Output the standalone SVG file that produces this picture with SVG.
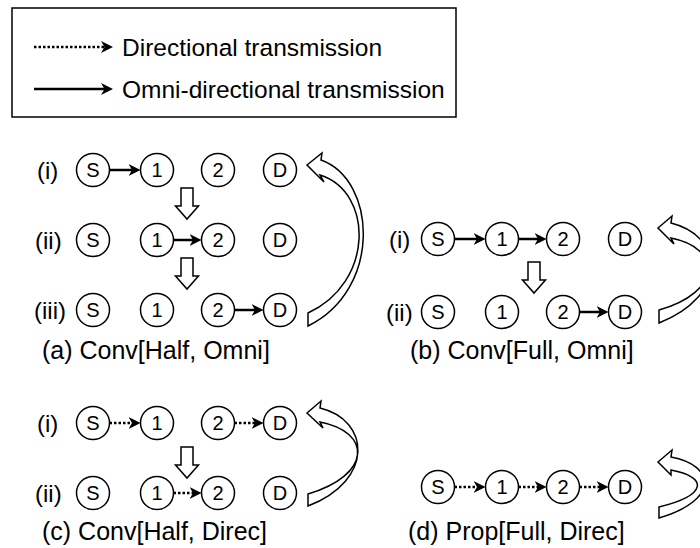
<svg xmlns="http://www.w3.org/2000/svg" width="700" height="548" viewBox="0 0 700 548">
<style>
text{font-family:"Liberation Sans",Arial,sans-serif;fill:#000}
.leg{font-size:24.5px}
.cap{font-size:25px}
.row{font-size:24px}
.nl{font-size:20px;text-anchor:middle}
.node circle{fill:#fff;stroke:#000;stroke-width:1.5}
.solid{stroke:#000;stroke-width:2.5;fill:none;marker-end:url(#ah)}
.dot{stroke:#000;stroke-width:2.5;fill:none;stroke-dasharray:2.5 2;marker-end:url(#ah)}
.blk{fill:#fff;stroke:#000;stroke-width:1.5;stroke-linejoin:miter}
</style>
<defs>
<marker id="ah" markerUnits="userSpaceOnUse" markerWidth="14" markerHeight="14" refX="7" refY="6" orient="auto" viewBox="0 0 14 14">
<path d="M0,0 L12,6 L0,12 L3.5,6 Z" fill="#000"/>
</marker>
<path id="down" class="blk" d="M-6,0 L6,0 L6,18 L11.5,18 L0,31 L-11.5,18 L-6,18 Z"/>
</defs>
<rect width="700" height="548" fill="#fff"/>
<g id="legend">
<rect x="12" y="8" width="444" height="109" fill="#fff" stroke="#000" stroke-width="1.5"/>
<line class="dot" x1="34" y1="47" x2="108" y2="47"/>
<text class="leg" x="122" y="56">Directional transmission</text>
<line class="solid" x1="34" y1="89" x2="108" y2="89"/>
<text class="leg" x="122" y="98">Omni-directional transmission</text>
</g>
<g id="labels">
<text class="row" x="37" y="179">(i)</text>
<text class="row" x="35" y="249">(ii)</text>
<text class="row" x="34" y="319">(iii)</text>
<text class="cap" x="42" y="359">(a) Conv[Half, Omni]</text>
<text class="row" x="389" y="248">(i)</text>
<text class="row" x="386" y="321">(ii)</text>
<text class="cap" x="410" y="359">(b) Conv[Full, Omni]</text>
<text class="row" x="37" y="432">(i)</text>
<text class="row" x="35" y="502">(ii)</text>
<text class="cap" x="42" y="540">(c) Conv[Half, Direc]</text>
<text class="cap" x="408" y="540">(d) Prop[Full, Direc]</text>
</g>
<g id="connectors">
<line class="solid" x1="109.5" y1="170" x2="135.5" y2="170"/>
<line class="solid" x1="173.5" y1="240" x2="196.5" y2="240"/>
<line class="solid" x1="234.5" y1="310" x2="258.5" y2="310"/>
<line class="solid" x1="454.5" y1="239" x2="480.5" y2="239"/>
<line class="solid" x1="518.5" y1="239" x2="541.5" y2="239"/>
<line class="solid" x1="579.5" y1="312" x2="603.5" y2="312"/>
<line class="dot" x1="109.5" y1="423" x2="135.5" y2="423"/>
<line class="dot" x1="234.5" y1="423" x2="258.5" y2="423"/>
<line class="dot" x1="173.5" y1="493" x2="196.5" y2="493"/>
<line class="dot" x1="454.5" y1="487" x2="480.5" y2="487"/>
<line class="dot" x1="518.5" y1="487" x2="541.5" y2="487"/>
<line class="dot" x1="579.5" y1="487" x2="603.5" y2="487"/>
<use href="#down" x="187" y="188"/>
<use href="#down" x="187" y="258"/>
<use href="#down" x="534" y="262"/>
<use href="#down" x="187" y="447"/>
<path class="blk" d="M307,165 L322,153 L321,160 C377,180 382,290 308,326 L308,313 C374,283 374,192 320,175 L324,182 Z"/>
<path class="blk" d="M658,228 L672,216 L671,223 C724,236 728,296 659,323 L659,310 C722,292 722,248 671,238 L674,244 Z"/>
<path class="blk" d="M307,413 L321,401 L320,408 C370,420 375,480 308,506 L308,494 C372,475 372,432 320,422 L323,428 Z"/>
<path class="blk" d="M658,462 L672,450 L671,457 C715,465 720,500 659,518 L659,507 C708,495 708,477 671,470 L671,475 Z"/>
</g>
<g id="a-i-S" class="node"><circle cx="93" cy="170" r="16.5"/><text class="nl" x="93" y="177">S</text></g>
<g id="a-i-1" class="node"><circle cx="157" cy="170" r="16.5"/><text class="nl" x="157" y="177">1</text></g>
<g id="a-i-2" class="node"><circle cx="218" cy="170" r="16.5"/><text class="nl" x="218" y="177">2</text></g>
<g id="a-i-D" class="node"><circle cx="280" cy="170" r="16.5"/><text class="nl" x="280" y="177">D</text></g>
<g id="a-ii-S" class="node"><circle cx="93" cy="240" r="16.5"/><text class="nl" x="93" y="247">S</text></g>
<g id="a-ii-1" class="node"><circle cx="157" cy="240" r="16.5"/><text class="nl" x="157" y="247">1</text></g>
<g id="a-ii-2" class="node"><circle cx="218" cy="240" r="16.5"/><text class="nl" x="218" y="247">2</text></g>
<g id="a-ii-D" class="node"><circle cx="280" cy="240" r="16.5"/><text class="nl" x="280" y="247">D</text></g>
<g id="a-iii-S" class="node"><circle cx="93" cy="310" r="16.5"/><text class="nl" x="93" y="317">S</text></g>
<g id="a-iii-1" class="node"><circle cx="157" cy="310" r="16.5"/><text class="nl" x="157" y="317">1</text></g>
<g id="a-iii-2" class="node"><circle cx="218" cy="310" r="16.5"/><text class="nl" x="218" y="317">2</text></g>
<g id="a-iii-D" class="node"><circle cx="280" cy="310" r="16.5"/><text class="nl" x="280" y="317">D</text></g>
<g id="b-i-S" class="node"><circle cx="438" cy="239" r="16.5"/><text class="nl" x="438" y="246">S</text></g>
<g id="b-i-1" class="node"><circle cx="502" cy="239" r="16.5"/><text class="nl" x="502" y="246">1</text></g>
<g id="b-i-2" class="node"><circle cx="563" cy="239" r="16.5"/><text class="nl" x="563" y="246">2</text></g>
<g id="b-i-D" class="node"><circle cx="625" cy="239" r="16.5"/><text class="nl" x="625" y="246">D</text></g>
<g id="b-ii-S" class="node"><circle cx="438" cy="312" r="16.5"/><text class="nl" x="438" y="319">S</text></g>
<g id="b-ii-1" class="node"><circle cx="502" cy="312" r="16.5"/><text class="nl" x="502" y="319">1</text></g>
<g id="b-ii-2" class="node"><circle cx="563" cy="312" r="16.5"/><text class="nl" x="563" y="319">2</text></g>
<g id="b-ii-D" class="node"><circle cx="625" cy="312" r="16.5"/><text class="nl" x="625" y="319">D</text></g>
<g id="c-i-S" class="node"><circle cx="93" cy="423" r="16.5"/><text class="nl" x="93" y="430">S</text></g>
<g id="c-i-1" class="node"><circle cx="157" cy="423" r="16.5"/><text class="nl" x="157" y="430">1</text></g>
<g id="c-i-2" class="node"><circle cx="218" cy="423" r="16.5"/><text class="nl" x="218" y="430">2</text></g>
<g id="c-i-D" class="node"><circle cx="280" cy="423" r="16.5"/><text class="nl" x="280" y="430">D</text></g>
<g id="c-ii-S" class="node"><circle cx="93" cy="493" r="16.5"/><text class="nl" x="93" y="500">S</text></g>
<g id="c-ii-1" class="node"><circle cx="157" cy="493" r="16.5"/><text class="nl" x="157" y="500">1</text></g>
<g id="c-ii-2" class="node"><circle cx="218" cy="493" r="16.5"/><text class="nl" x="218" y="500">2</text></g>
<g id="c-ii-D" class="node"><circle cx="280" cy="493" r="16.5"/><text class="nl" x="280" y="500">D</text></g>
<g id="d-S" class="node"><circle cx="438" cy="487" r="16.5"/><text class="nl" x="438" y="494">S</text></g>
<g id="d-1" class="node"><circle cx="502" cy="487" r="16.5"/><text class="nl" x="502" y="494">1</text></g>
<g id="d-2" class="node"><circle cx="563" cy="487" r="16.5"/><text class="nl" x="563" y="494">2</text></g>
<g id="d-D" class="node"><circle cx="625" cy="487" r="16.5"/><text class="nl" x="625" y="494">D</text></g>
</svg>
